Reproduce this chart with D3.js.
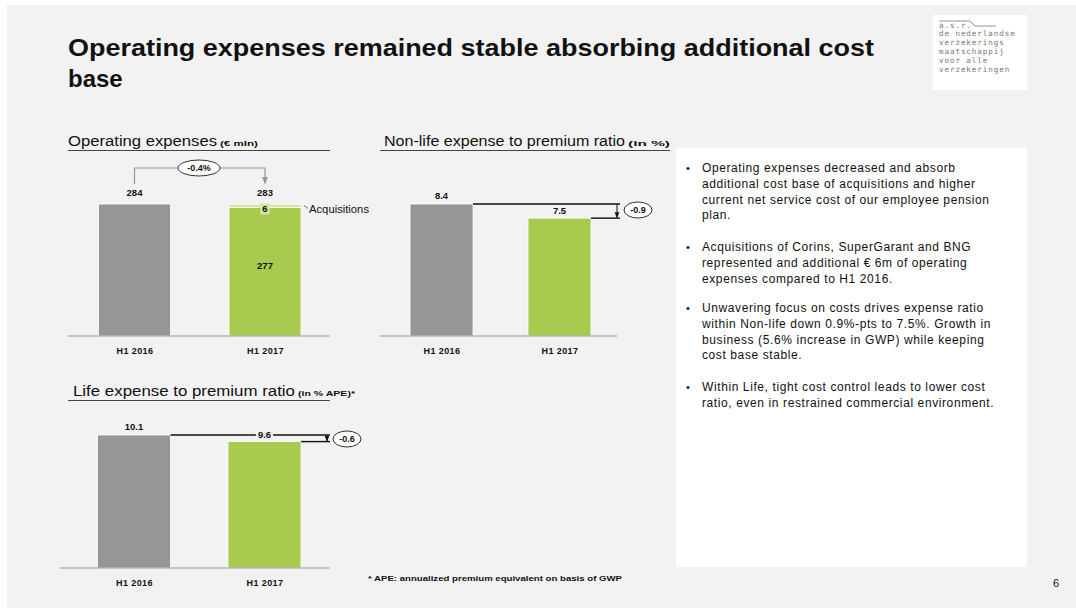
<!DOCTYPE html>
<html>
<head>
<meta charset="utf-8">
<script src="https://cdn.jsdelivr.net/npm/d3@7/dist/d3.min.js"></script>
<style>
  html, body { margin: 0; padding: 0; background: #ffffff; }
  svg { display: block; font-family: "Liberation Sans", Arial, sans-serif; }
</style>
</head>
<body>
<svg id="slide" width="1076" height="608"></svg>
<script>
// ---- data ----
const periods = ["H1 2016", "H1 2017"];
const opexBase = [284, 277];          // € mln, excluding acquisitions
const opexAcquisitions = [0, 6];      // € mln from acquisitions
const opexTotal = [284, 283];         // € mln
const opexChange = "-0.4%";
const nonLifeRatio = [8.4, 7.5];      // in %
const nonLifeDelta = "-0.9";
const lifeRatio = [10.1, 9.6];        // in % APE
const lifeDelta = "-0.6";

const bullets = [
  ["Operating expenses decreased and absorb",
   "additional cost base of acquisitions and higher",
   "current net service cost of our employee pension",
   "plan."],
  ["Acquisitions of Corins, SuperGarant and BNG",
   "represented and additional € 6m of operating",
   "expenses compared to H1 2016."],
  ["Unwavering focus on costs drives expense ratio",
   "within Non-life down 0.9%-pts to 7.5%. Growth in",
   "business (5.6% increase in GWP) while keeping",
   "cost base stable."],
  ["Within Life, tight cost control leads to lower cost",
   "ratio, even in restrained commercial environment."]
];
const logoLines = ["a.s.r.", "de nederlandse", "verzekerings", "maatschappij", "voor alle", "verzekeringen"];

// ---- styles ----
const BG = "#f2f2f2";
const GREY = "#969696";
const GREEN = "#a8cb4f";
const LIGHT_GREEN = "#d4e5a4";
const INK = "#111111";

const svg = d3.select("#slide");

svg.append("rect").attr("x", 7).attr("y", 5).attr("width", 1069).attr("height", 603).attr("fill", BG);

svg.append("defs").selectAll("marker")
  .data([["arrowGrey", GREY], ["arrowInk", INK]])
  .join("marker")
  .attr("id", d => d[0])
  .attr("viewBox", "0 0 10 10").attr("refX", 9).attr("refY", 5)
  .attr("markerWidth", 6).attr("markerHeight", 6).attr("orient", "auto")
  .append("path").attr("d", "M0,1 L10,5 L0,9 Z").attr("fill", d => d[1]);

// ---- slide title ----
const title = svg.append("text").attr("x", 68).attr("font-size", 24).attr("font-weight", "bold").attr("fill", INK);
title.append("tspan").attr("x", 68).attr("y", 56).attr("textLength", 806).attr("lengthAdjust", "spacingAndGlyphs")
  .text("Operating expenses remained stable absorbing additional cost");
title.append("tspan").attr("x", 68).attr("y", 87).text("base");

// ---- logo ----
const logo = svg.append("g");
logo.append("rect").attr("x", 933).attr("y", 15).attr("width", 94).attr("height", 75).attr("fill", "#ffffff");
logo.append("path").attr("d", "M939,21 L970,21 L975,26 L996,26").attr("fill", "none").attr("stroke", "#777").attr("stroke-width", 0.8);
logo.selectAll("text.logo").data(logoLines).join("text")
  .attr("class", "logo")
  .attr("x", 939).attr("y", (d, i) => 27.5 + i * 8.9)
  .attr("font-family", "DejaVu Sans Mono, monospace").attr("font-size", 7.6).attr("letter-spacing", 0.9).attr("fill", "#777")
  .text(d => d);

// ---- helpers ----
function sectionTitle(x, y, lineX0, lineX1, main, mainLen, unit, unitLen) {
  const t = svg.append("text").attr("x", x).attr("y", y).attr("fill", INK);
  t.append("tspan").attr("font-size", 14).attr("textLength", mainLen).attr("lengthAdjust", "spacingAndGlyphs").text(main);
  t.append("tspan").attr("dx", 3).attr("font-size", 8).attr("font-weight", "bold").attr("textLength", unitLen).attr("lengthAdjust", "spacingAndGlyphs").text(unit);
  svg.append("line").attr("x1", lineX0).attr("x2", lineX1).attr("y1", y + 4.5).attr("y2", y + 4.5)
    .attr("stroke", "#444").attr("stroke-width", 1);
}

function valueLabel(x, y, txt, bg) {
  const g = svg.append("g");
  const t = g.append("text").attr("x", x).attr("y", y).attr("text-anchor", "middle")
    .attr("font-size", 9.5).attr("font-weight", "bold").attr("fill", INK).text(txt);
  if (bg) {
    const b = t.node().getBBox();
    g.insert("rect", "text").attr("x", b.x - 2).attr("y", b.y).attr("width", b.width + 4).attr("height", b.height).attr("fill", bg);
  }
  return g;
}

function ellipseLabel(cx, cy, rx, txt) {
  svg.append("ellipse").attr("cx", cx).attr("cy", cy).attr("rx", rx).attr("ry", 8)
    .attr("fill", "#ffffff").attr("stroke", "#333").attr("stroke-width", 1);
  svg.append("text").attr("x", cx).attr("y", cy + 3.3).attr("text-anchor", "middle")
    .attr("font-size", 9).attr("font-weight", "bold").attr("fill", INK).text(txt);
}

function axisLabels(x, y, baseY) {
  const axis = svg.append("g").attr("transform", `translate(0,${baseY})`).call(d3.axisBottom(x).tickSize(0).tickPadding(12));
  axis.select(".domain").remove();
  axis.selectAll("text").attr("font-family", "Liberation Sans, Arial, sans-serif")
    .attr("font-size", 9).attr("font-weight", "bold").attr("letter-spacing", 0.4).attr("fill", INK);
}

// ---- chart 1: operating expenses ----
sectionTitle(68, 146, 68, 330, "Operating expenses", 149, "(€ mln)", 38);
{
  const x = d3.scalePoint().domain(periods).range([134.5, 265]);
  const y = d3.scaleLinear().domain([0, opexTotal[0]]).range([336, 204]);
  const bw = 72;
  const rows = periods.map((p, i) => ({ p, base: opexBase[i], acq: opexAcquisitions[i], total: opexTotal[i], i }));

  svg.append("g").selectAll("rect").data(rows).join("rect")
    .attr("x", d => x(d.p) - bw / 2).attr("width", bw)
    .attr("y", d => y(d.base)).attr("height", d => y(0) - y(d.base))
    .attr("fill", d => d.i === 0 ? GREY : GREEN).attr("stroke", "#fff").attr("stroke-width", 0.8);
  svg.append("g").selectAll("rect").data(rows.filter(d => d.acq > 0)).join("rect")
    .attr("x", d => x(d.p) - bw / 2).attr("width", bw)
    .attr("y", d => y(d.base + d.acq)).attr("height", d => y(d.base) - y(d.base + d.acq))
    .attr("fill", LIGHT_GREEN).attr("stroke", "#fff").attr("stroke-width", 0.6);

  svg.append("line").attr("x1", 68).attr("x2", 330).attr("y1", 336).attr("y2", 336).attr("stroke", GREY).attr("stroke-width", 1);
  axisLabels(x, y, 336);

  rows.forEach(d => valueLabel(x(d.p), y(d.total) - 8, d.total));
  rows.filter(d => d.i === 1).forEach(d => {
    valueLabel(x(d.p), y(d.base) + 62, d.base);
    valueLabel(x(d.p), y(d.total) + 8, d.acq, LIGHT_GREEN);
    svg.append("line").attr("x1", x(d.p) + bw / 2 + 3).attr("y1", y(d.total) + 1)
      .attr("x2", x(d.p) + bw / 2 + 7).attr("y2", y(d.total) + 4).attr("stroke", "#555").attr("stroke-width", 0.8);
    svg.append("text").attr("x", x(d.p) + bw / 2 + 8).attr("y", y(d.total) + 9)
      .attr("font-size", 10).attr("fill", INK).attr("textLength", 60).attr("lengthAdjust", "spacingAndGlyphs").text("Acquisitions");
  });

  // change connector
  const cy = 168;
  svg.append("path").attr("d", `M${x(periods[0])},${y(opexTotal[0]) - 20} V${cy} H178`)
    .attr("fill", "none").attr("stroke", GREY).attr("stroke-width", 1.2);
  svg.append("path").attr("d", `M220,${cy} H${x(periods[1])} V${y(opexTotal[1]) - 21}`)
    .attr("fill", "none").attr("stroke", GREY).attr("stroke-width", 1.2).attr("marker-end", "url(#arrowGrey)");
  ellipseLabel(199, cy, 21, opexChange);
}

// ---- ratio charts with delta bracket ----
function ratioChart(values, deltaTxt, opts) {
  const x = d3.scalePoint().domain(periods).range(opts.centers);
  const y = d3.scaleLinear().domain([0, values[0]]).range([opts.base, opts.top]);
  const bw = opts.bw;
  const rows = periods.map((p, i) => ({ p, v: values[i], i }));

  svg.append("g").selectAll("rect").data(rows).join("rect")
    .attr("x", d => x(d.p) - bw / 2).attr("width", bw)
    .attr("y", d => y(d.v)).attr("height", d => y(0) - y(d.v))
    .attr("fill", d => d.i === 0 ? GREY : GREEN).attr("stroke", "#fff").attr("stroke-width", 0.8);
  svg.append("line").attr("x1", opts.axis[0]).attr("x2", opts.axis[1]).attr("y1", opts.base).attr("y2", opts.base)
    .attr("stroke", GREY).attr("stroke-width", 1);
  axisLabels(x, y, opts.base);

  const y0 = y(values[0]), y1 = y(values[1]);
  svg.append("line").attr("x1", x(periods[0]) + bw / 2).attr("x2", opts.bracketX + 3).attr("y1", y0).attr("y2", y0)
    .attr("stroke", INK).attr("stroke-width", 1.4);
  svg.append("line").attr("x1", x(periods[1]) + bw / 2).attr("x2", opts.bracketX + 3).attr("y1", y1).attr("y2", y1)
    .attr("stroke", INK).attr("stroke-width", 1.4);
  svg.append("line").attr("x1", opts.bracketX).attr("x2", opts.bracketX).attr("y1", y0).attr("y2", y1 - 0.5)
    .attr("stroke", INK).attr("stroke-width", 1).attr("marker-end", "url(#arrowInk)");

  valueLabel(x(periods[0]), y0 - 5, values[0]);
  valueLabel(x(periods[1]), y1 + opts.label2Dy, values[1], BG);
  ellipseLabel(opts.ellipse[0], opts.ellipse[1], opts.ellipse[2], deltaTxt);
}

sectionTitle(384, 146, 380, 670, "Non-life expense to premium ratio", 241, "(in %)", 42);
ratioChart(nonLifeRatio, nonLifeDelta, {
  centers: [441.5, 559.5], bw: 63, base: 336, top: 204, axis: [380, 617],
  bracketX: 617, label2Dy: -4, ellipse: [638, 210, 14]
});

sectionTitle(73, 396, 68, 330, "Life expense to premium ratio", 222, "(in % APE)*", 57);
ratioChart(lifeRatio, lifeDelta, {
  centers: [134, 264.5], bw: 73, base: 568, top: 435, axis: [60, 330],
  bracketX: 327, label2Dy: -4, ellipse: [347, 439, 14]
});

// ---- footnote & page number ----
svg.append("text").attr("x", 368).attr("y", 581).attr("font-size", 7.5).attr("font-weight", "bold").attr("fill", INK)
  .attr("textLength", 254).attr("lengthAdjust", "spacingAndGlyphs")
  .text("* APE: annualized premium equivalent on basis of GWP");
svg.append("text").attr("x", 1056).attr("y", 587).attr("text-anchor", "middle").attr("font-size", 11).attr("fill", INK).text("6");

// ---- commentary panel ----
svg.append("rect").attr("x", 676).attr("y", 148).attr("width", 351).attr("height", 419).attr("fill", "#ffffff");
const paraTop = [172, 251, 312, 391];
bullets.forEach((lines, pi) => {
  svg.append("text").attr("x", 686).attr("y", paraTop[pi]).attr("font-size", 11).attr("fill", INK).text("•");
  svg.append("g").selectAll("text").data(lines).join("text")
    .attr("x", 702).attr("y", (d, i) => paraTop[pi] + i * 15.8)
    .attr("font-size", 12).attr("letter-spacing", 0.6).attr("fill", INK)
    .text(d => d);
});
</script>
</body>
</html>
